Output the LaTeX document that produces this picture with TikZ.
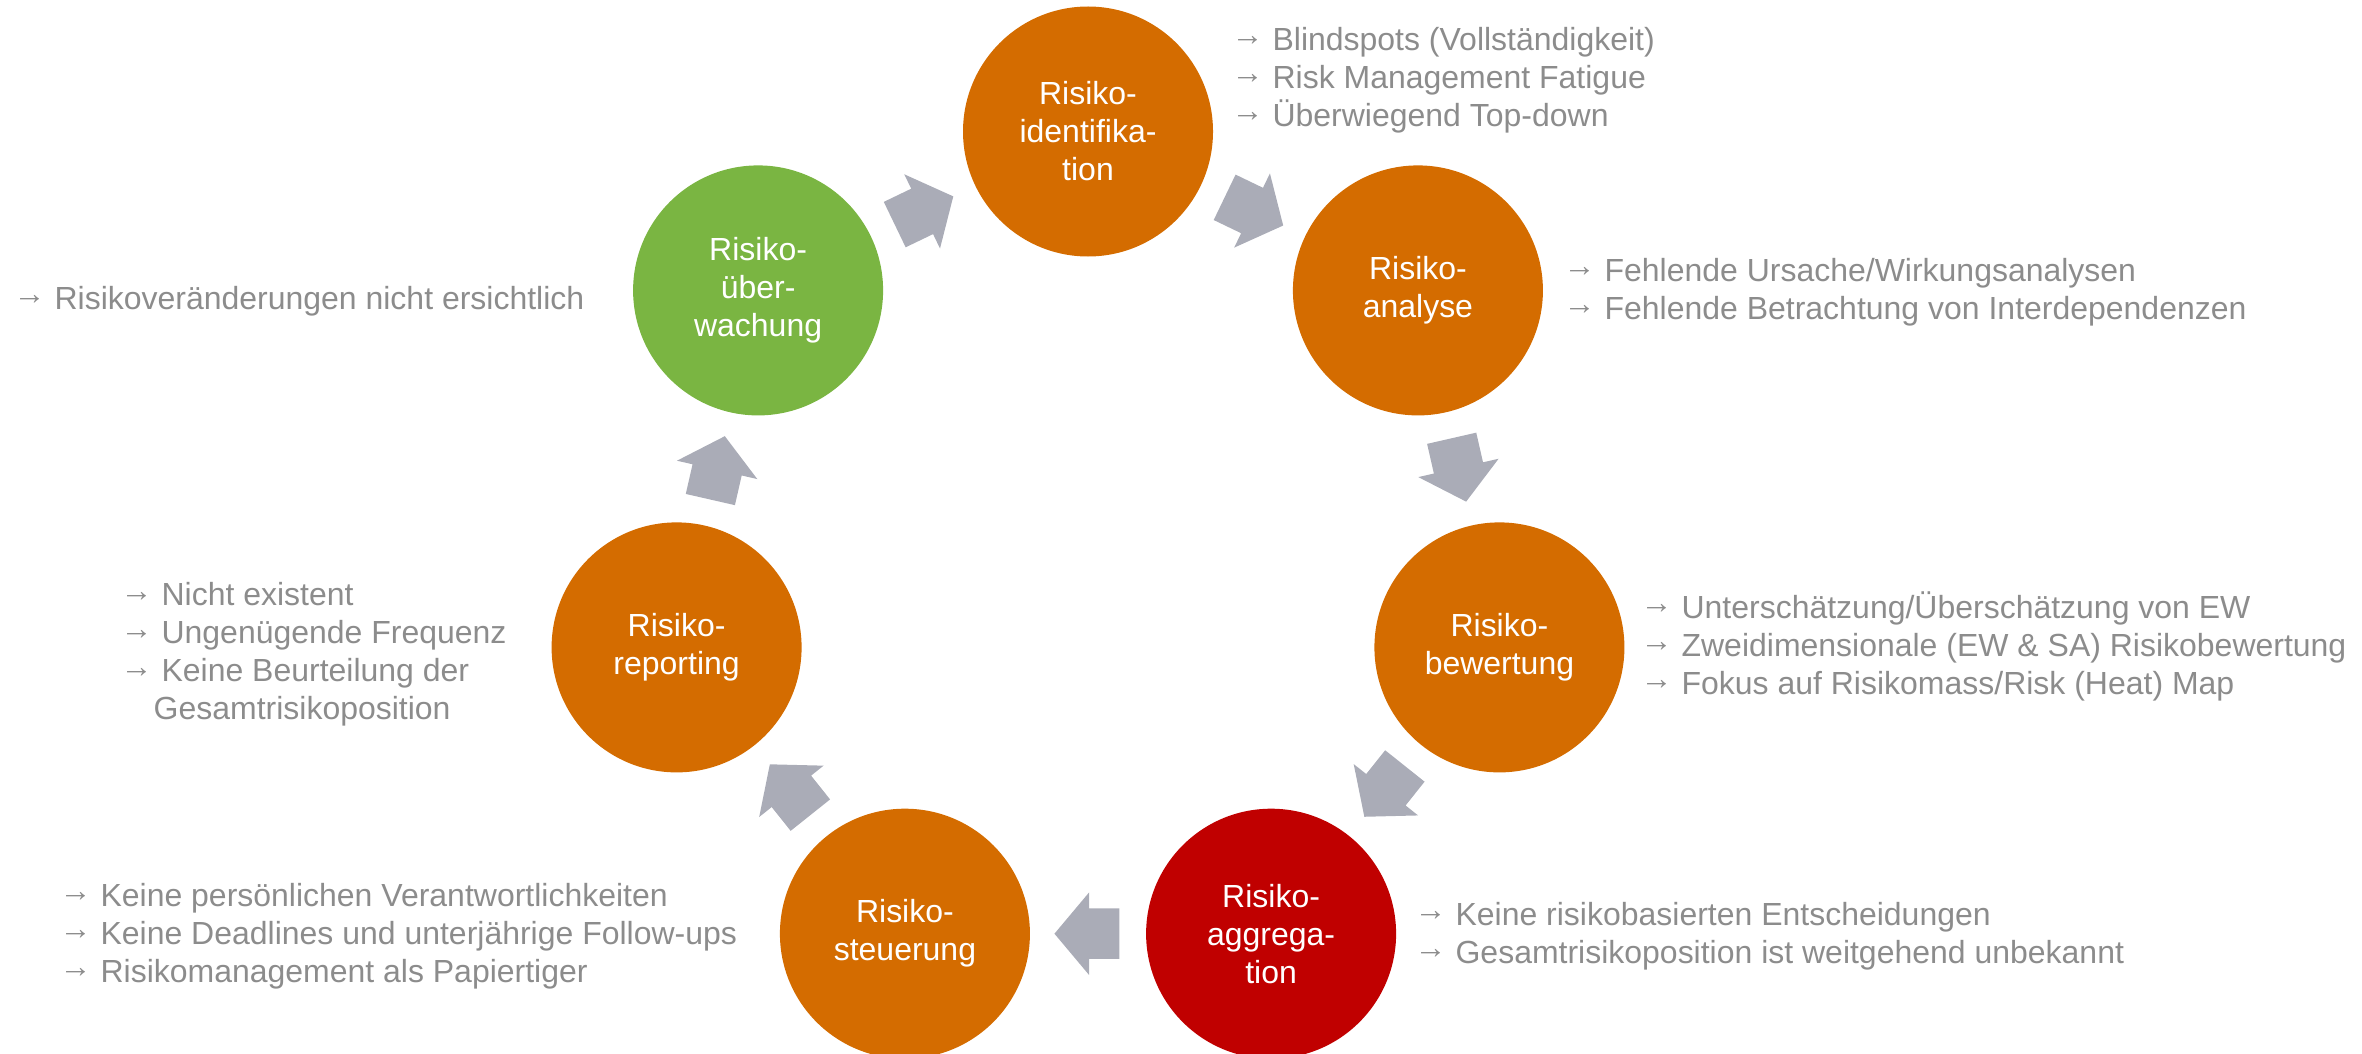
\documentclass[tikz,border=0pt]{standalone}
\usepackage{fontspec}
\setmainfont{Liberation Sans}
\usetikzlibrary{shapes.arrows}

\definecolor{riskorange}{RGB}{212,108,0}
\definecolor{riskred}{RGB}{192,0,0}
\definecolor{riskgreen}{RGB}{122,181,66}
\definecolor{arrowgray}{RGB}{170,172,183}
\definecolor{notegray}{RGB}{140,140,140}

\newcommand{\notearrow}{\raisebox{0.14em}{→}}

\begin{document}
\begin{tikzpicture}[
    stage/.style={circle, minimum size=2.5cm, inner sep=0pt, text=white, align=center,
                  font=\fontsize{9.1pt}{10.8pt}\selectfont},
    flow/.style={single arrow, fill=arrowgray, sloped, allow upside down, anchor=tail,
                 pos=0.22, inner xsep=0pt, inner ysep=0.245cm, minimum height=0.65cm,
                 single arrow head extend=0.16cm, single arrow tip angle=100},
    note/.style={anchor=west, align=left, inner sep=0pt, text=notegray,
                 font=\fontsize{9.1pt}{10.8pt}\selectfont}]
    \useasboundingbox (0,0) rectangle (23.62,-10.54);
    \coordinate (ring) at (10.88,-5.535);

    % Process stages
    \node[stage, fill=riskorange] (ident) at ([shift={(90:4.22)}]ring) {Risiko-\\identifika-\\tion};
    \node[stage, fill=riskorange] (anal) at ([shift={(38.571:4.22)}]ring) {Risiko-\\analyse};
    \node[stage, fill=riskorange] (bew) at ([shift={(-12.857:4.22)}]ring) {Risiko-\\bewertung};
    \node[stage, fill=riskred] (aggr) at ([shift={(-64.286:4.22)}]ring) {Risiko-\\aggrega-\\tion};
    \node[stage, fill=riskorange] (steu) at ([shift={(-115.714:4.22)}]ring) {Risiko-\\steuerung};
    \node[stage, fill=riskorange] (rep) at ([shift={(-167.143:4.22)}]ring) {Risiko-\\reporting};
    \node[stage, fill=riskgreen] (ueb) at ([shift={(141.429:4.22)}]ring) {Risiko-\\über-\\wachung};

    % Flow arrows
    \path (ident) -- node[flow] {} (anal);
    \path (anal) -- node[flow] {} (bew);
    \path (bew) -- node[flow] {} (aggr);
    \path (aggr) -- node[flow] {} (steu);
    \path (steu) -- node[flow] {} (rep);
    \path (rep) -- node[flow] {} (ueb);
    \path (ueb) -- node[flow] {} (ident);

    % Weak points
    \node[note] (identnote) at (12.31,-0.80) {\notearrow{} Blindspots (Vollständigkeit)\\\notearrow{} Risk Management Fatigue\\\notearrow{} Überwiegend Top-down};
    \node[note] (analnote) at (15.63,-2.92) {\notearrow{} Fehlende Ursache/Wirkungsanalysen\\\notearrow{} Fehlende Betrachtung von Interdependenzen};
    \node[note] (bewnote) at (16.40,-6.46) {\notearrow{} Unterschätzung/Überschätzung von EW\\\notearrow{} Zweidimensionale (EW \& SA) Risikobewertung\\\notearrow{} Fokus auf Risikomass/Risk (Heat) Map};
    \node[note] (aggrnote) at (14.14,-9.36) {\notearrow{} Keine risikobasierten Entscheidungen\\\notearrow{} Gesamtrisikoposition ist weitgehend unbekannt};
    \node[note] (steunote) at (0.59,-9.36) {\notearrow{} Keine persönlichen Verantwortlichkeiten\\\notearrow{} Keine Deadlines und unterjährige Follow-ups\\\notearrow{} Risikomanagement als Papiertiger};
    \node[note] (repnote) at (1.20,-6.545) {\notearrow{} Nicht existent\\\notearrow{} Ungenügende Frequenz\\\notearrow{} Keine Beurteilung der\\\hspace*{0.33cm}Gesamtrisikoposition};
    \node[note] (uebnote) at (0.13,-3.01) {\notearrow{} Risikoveränderungen nicht ersichtlich};
\end{tikzpicture}
\end{document}
